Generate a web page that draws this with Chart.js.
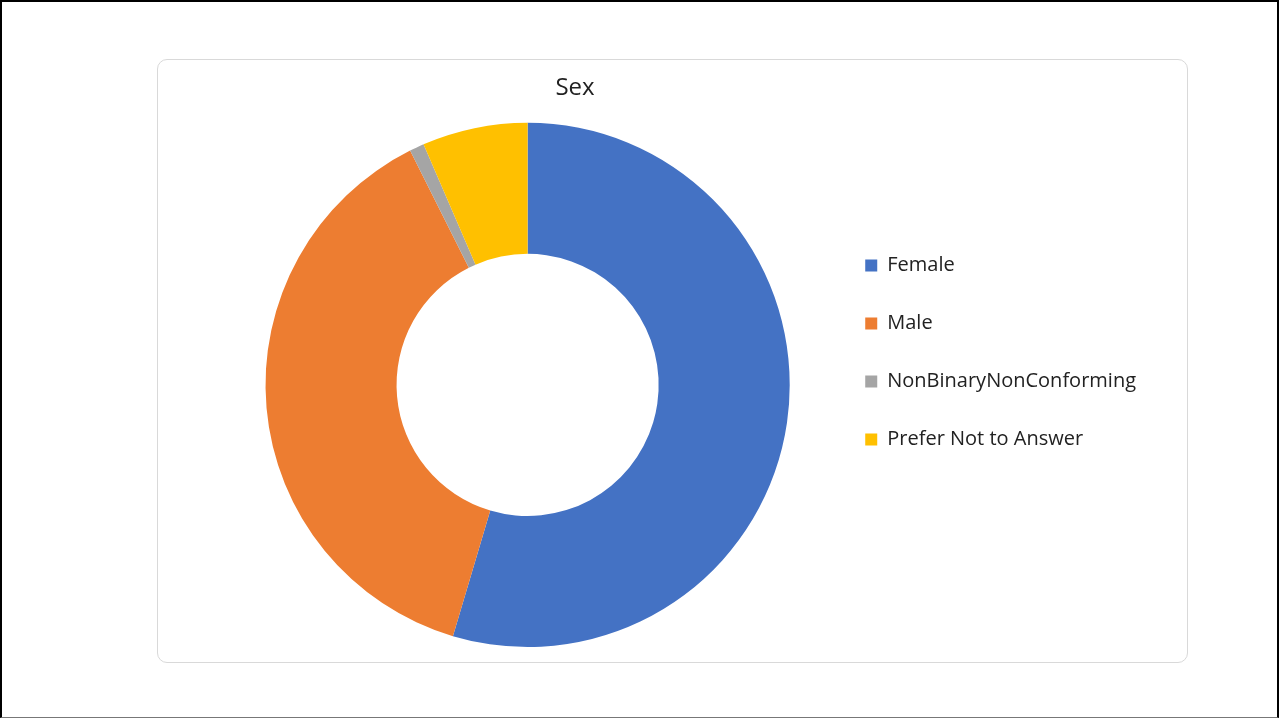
<!DOCTYPE html>
<html>
<head>
<meta charset="utf-8">
<title>Sex</title>
<script src="https://cdn.jsdelivr.net/npm/chart.js@4.4.1/dist/chart.umd.min.js"></script>
<style>
    html, body { margin: 0; padding: 0; background: #fff; }
    #frame { position: absolute; left: 0; top: 0; width: 1279px; height: 718px; box-sizing: border-box; border: 2px solid #000; border-bottom: 1px solid #777; }
    #panel { position: absolute; left: 157px; top: 59px; width: 1031px; height: 604px; box-sizing: border-box; border: 1px solid #d9d9d9; border-radius: 10px; }
    #sexChart { position: absolute; left: 0; top: 0; }
</style>
</head>
<body>
<div id="frame"></div>
<div id="panel"></div>
<canvas id="sexChart" width="1279" height="719"></canvas>
<script>
const categories = ['Female', 'Male', 'NonBinaryNonConforming', 'Prefer Not to Answer'];
const shares = [54.6, 38.0, 0.9, 6.5]; // percent of respondents

// Excel left the title off-centre, so slide Chart.js's own title box sideways
const titleShift = {
    id: 'titleShift',
    afterLayout(chart, args, opts) {
        if (chart.titleBlock) {
            chart.titleBlock.left += opts.dx;
            chart.titleBlock.right += opts.dx;
        }
    }
};

function drawChart() {
    const ctx = document.getElementById('sexChart').getContext('2d');
    const sexChart = new Chart(ctx, {
        type: 'doughnut',
        data: {
            labels: categories,
            datasets: [{
                label: 'Sex',
                data: shares,
                backgroundColor: ['#4472C4', '#ED7D31', '#A5A5A5', '#FFC000'],
                borderWidth: 0,
                hoverOffset: 0
            }]
        },
        options: {
            responsive: false,
            animation: false,
            cutout: '50%',
            layout: {
                padding: { left: 228, right: 133, top: 58, bottom: 72 }
            },
            plugins: {
                title: {
                    display: true,
                    text: 'Sex',
                    color: '#222',
                    font: { family: 'Open Sans', size: 24, weight: 'normal' },
                    padding: { top: 16, bottom: 20 }
                },
                titleShift: { dx: -112 },
                legend: {
                    position: 'right',
                    labels: {
                        boxWidth: 12,
                        boxHeight: 12,
                        padding: 38,
                        color: '#222',
                        font: { family: 'Open Sans', size: 20 }
                    }
                },
                tooltip: { enabled: false }
            }
        },
        plugins: [titleShift]
    });
}

// the legend measures its text when laid out, so wait for the font first
document.fonts.load('20px "Open Sans"').then(drawChart, drawChart);
</script>
</body>
</html>
